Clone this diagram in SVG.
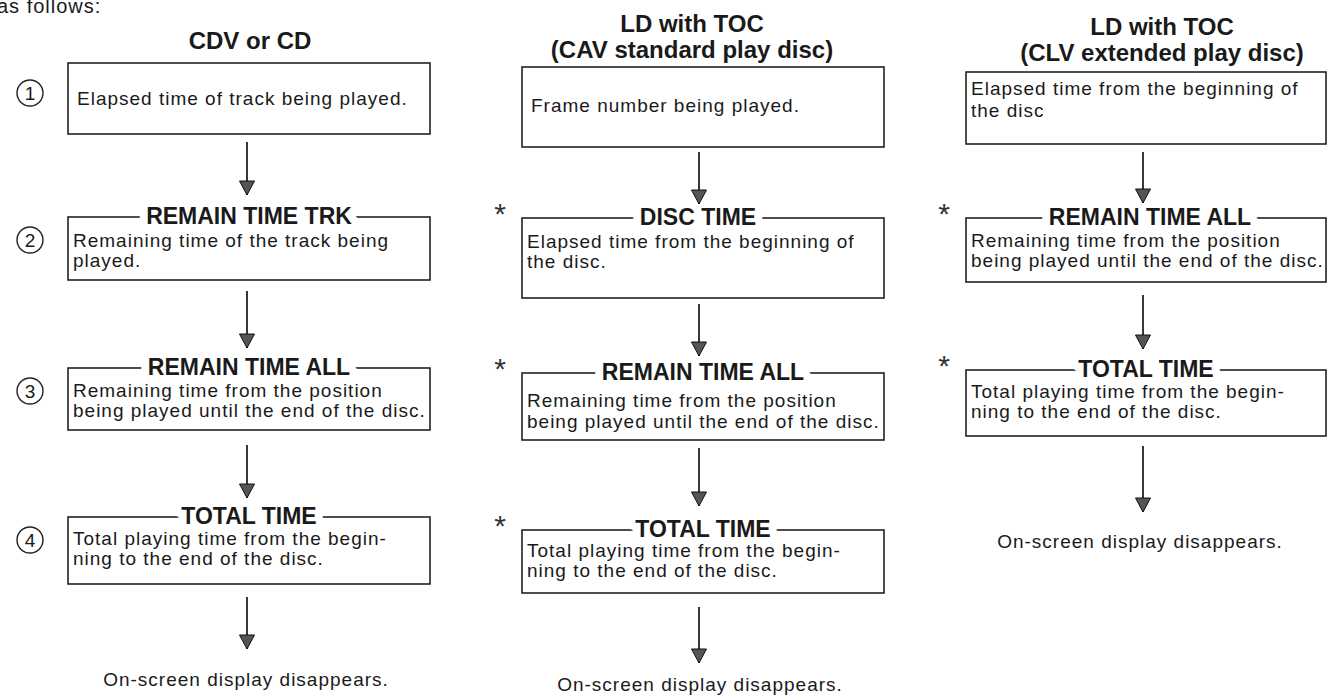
<svg xmlns="http://www.w3.org/2000/svg" width="1334" height="697" viewBox="0 0 1334 697">
<defs>
<marker id="ah" markerUnits="userSpaceOnUse" markerWidth="16" markerHeight="16" viewBox="0 0 16 16" refX="15" refY="8" orient="auto">
<path d="M1,0.5 L15,8 L1,15.5 Z" fill="#555" stroke="#111" stroke-width="1"/>
</marker>
</defs>
<style>
.box{fill:none;stroke:#222;stroke-width:1.6}
.t{font-family:"Liberation Sans",Arial,sans-serif;font-size:19px;letter-spacing:1px;fill:#1a1a1a}
.h{font-family:"Liberation Sans",Arial,sans-serif;font-size:23px;font-weight:bold;fill:#1a1a1a;text-anchor:middle;stroke:#fff;stroke-width:16px;paint-order:stroke;stroke-linejoin:round}
.ct{font-family:"Liberation Sans",Arial,sans-serif;font-size:24px;font-weight:bold;fill:#1a1a1a;text-anchor:middle}
.c{fill:none;stroke:#222;stroke-width:1.4}
.n{font-family:"Liberation Sans",Arial,sans-serif;font-size:19px;fill:#1a1a1a;text-anchor:middle}
.s{font-family:"Liberation Sans",Arial,sans-serif;font-size:30px;fill:#333;text-anchor:middle}
.e{font-family:"Liberation Sans",Arial,sans-serif;font-size:19px;letter-spacing:1px;fill:#1a1a1a;text-anchor:middle}
.a{stroke:#222;stroke-width:1.8;fill:none;marker-end:url(#ah)}
</style>
<rect width="1334" height="697" fill="#fff"/>
<text class="t" x="-3" y="13" style="font-size:20px">as follows:</text>

<g id="col1-title"><text class="ct" x="250" y="49">CDV or CD</text></g>
<g id="col2-title"><text class="ct" x="692" y="32">LD with TOC</text><text class="ct" x="692" y="58">(CAV standard play disc)</text></g>
<g id="col3-title"><text class="ct" x="1162" y="35">LD with TOC</text><text class="ct" x="1162" y="61">(CLV extended play disc)</text></g>

<g id="step-numbers">
<circle class="c" cx="30" cy="93" r="13"/><text class="n" x="30" y="100">1</text>
<circle class="c" cx="30" cy="240" r="13"/><text class="n" x="30" y="247">2</text>
<circle class="c" cx="30" cy="391" r="13"/><text class="n" x="30" y="398">3</text>
<circle class="c" cx="30" cy="540" r="13"/><text class="n" x="30" y="547">4</text>
</g>

<g id="c1n1"><rect class="box" x="68" y="63" width="362" height="71"/><text class="t" x="77" y="105">Elapsed time of track being played.</text></g>
<g id="c1n2"><rect class="box" x="68" y="217" width="362" height="63"/><text class="h" x="249" y="224">REMAIN TIME TRK</text><text class="t" x="73" y="247">Remaining time of the track being</text><text class="t" x="73" y="267">played.</text></g>
<g id="c1n3"><rect class="box" x="68" y="368" width="362" height="62"/><text class="h" x="249" y="375">REMAIN TIME ALL</text><text class="t" x="73" y="397">Remaining time from the position</text><text class="t" x="73" y="417">being played until the end of the disc.</text></g>
<g id="c1n4"><rect class="box" x="68" y="517" width="362" height="67"/><text class="h" x="249" y="524">TOTAL TIME</text><text class="t" x="73" y="545">Total playing time from the begin-</text><text class="t" x="73" y="565">ning to the end of the disc.</text></g>
<g id="c1end"><text class="e" x="246" y="686">On-screen display disappears.</text></g>

<g id="c2n1"><rect class="box" x="522" y="67" width="362" height="80"/><text class="t" x="531" y="112">Frame number being played.</text></g>
<g id="c2n2"><text class="s" x="500" y="224">*</text><rect class="box" x="522" y="218" width="362" height="80"/><text class="h" x="698" y="225">DISC TIME</text><text class="t" x="527" y="248">Elapsed time from the beginning of</text><text class="t" x="527" y="268">the disc.</text></g>
<g id="c2n3"><text class="s" x="500" y="379">*</text><rect class="box" x="522" y="373" width="362" height="67"/><text class="h" x="703" y="380">REMAIN TIME ALL</text><text class="t" x="527" y="407">Remaining time from the position</text><text class="t" x="527" y="428">being played until the end of the disc.</text></g>
<g id="c2n4"><text class="s" x="500" y="536">*</text><rect class="box" x="522" y="530" width="362" height="63"/><text class="h" x="703" y="537">TOTAL TIME</text><text class="t" x="527" y="557">Total playing time from the begin-</text><text class="t" x="527" y="577">ning to the end of the disc.</text></g>
<g id="c2end"><text class="e" x="700" y="691">On-screen display disappears.</text></g>

<g id="c3n1"><rect class="box" x="966" y="72" width="360" height="72"/><text class="t" x="971" y="95">Elapsed time from the beginning of</text><text class="t" x="971" y="117">the disc</text></g>
<g id="c3n2"><text class="s" x="944" y="224">*</text><rect class="box" x="966" y="218" width="360" height="64"/><text class="h" x="1150" y="225">REMAIN TIME ALL</text><text class="t" x="971" y="247">Remaining time from the position</text><text class="t" x="971" y="267">being played until the end of the disc.</text></g>
<g id="c3n3"><text class="s" x="944" y="376">*</text><rect class="box" x="966" y="370" width="360" height="66"/><text class="h" x="1146" y="377">TOTAL TIME</text><text class="t" x="971" y="398">Total playing time from the begin-</text><text class="t" x="971" y="418">ning to the end of the disc.</text></g>
<g id="c3end"><text class="e" x="1140" y="548">On-screen display disappears.</text></g>

<g id="connectors">
<line class="a" x1="247" y1="142" x2="247" y2="195"/>
<line class="a" x1="247" y1="291" x2="247" y2="348"/>
<line class="a" x1="247" y1="445" x2="247" y2="498"/>
<line class="a" x1="247" y1="597" x2="247" y2="649"/>
<line class="a" x1="699" y1="152" x2="699" y2="204"/>
<line class="a" x1="699" y1="304" x2="699" y2="356"/>
<line class="a" x1="699" y1="448" x2="699" y2="506"/>
<line class="a" x1="699" y1="607" x2="699" y2="663"/>
<line class="a" x1="1143" y1="152" x2="1143" y2="203"/>
<line class="a" x1="1143" y1="295" x2="1143" y2="349"/>
<line class="a" x1="1143" y1="446" x2="1143" y2="512"/>
</g>
</svg>
